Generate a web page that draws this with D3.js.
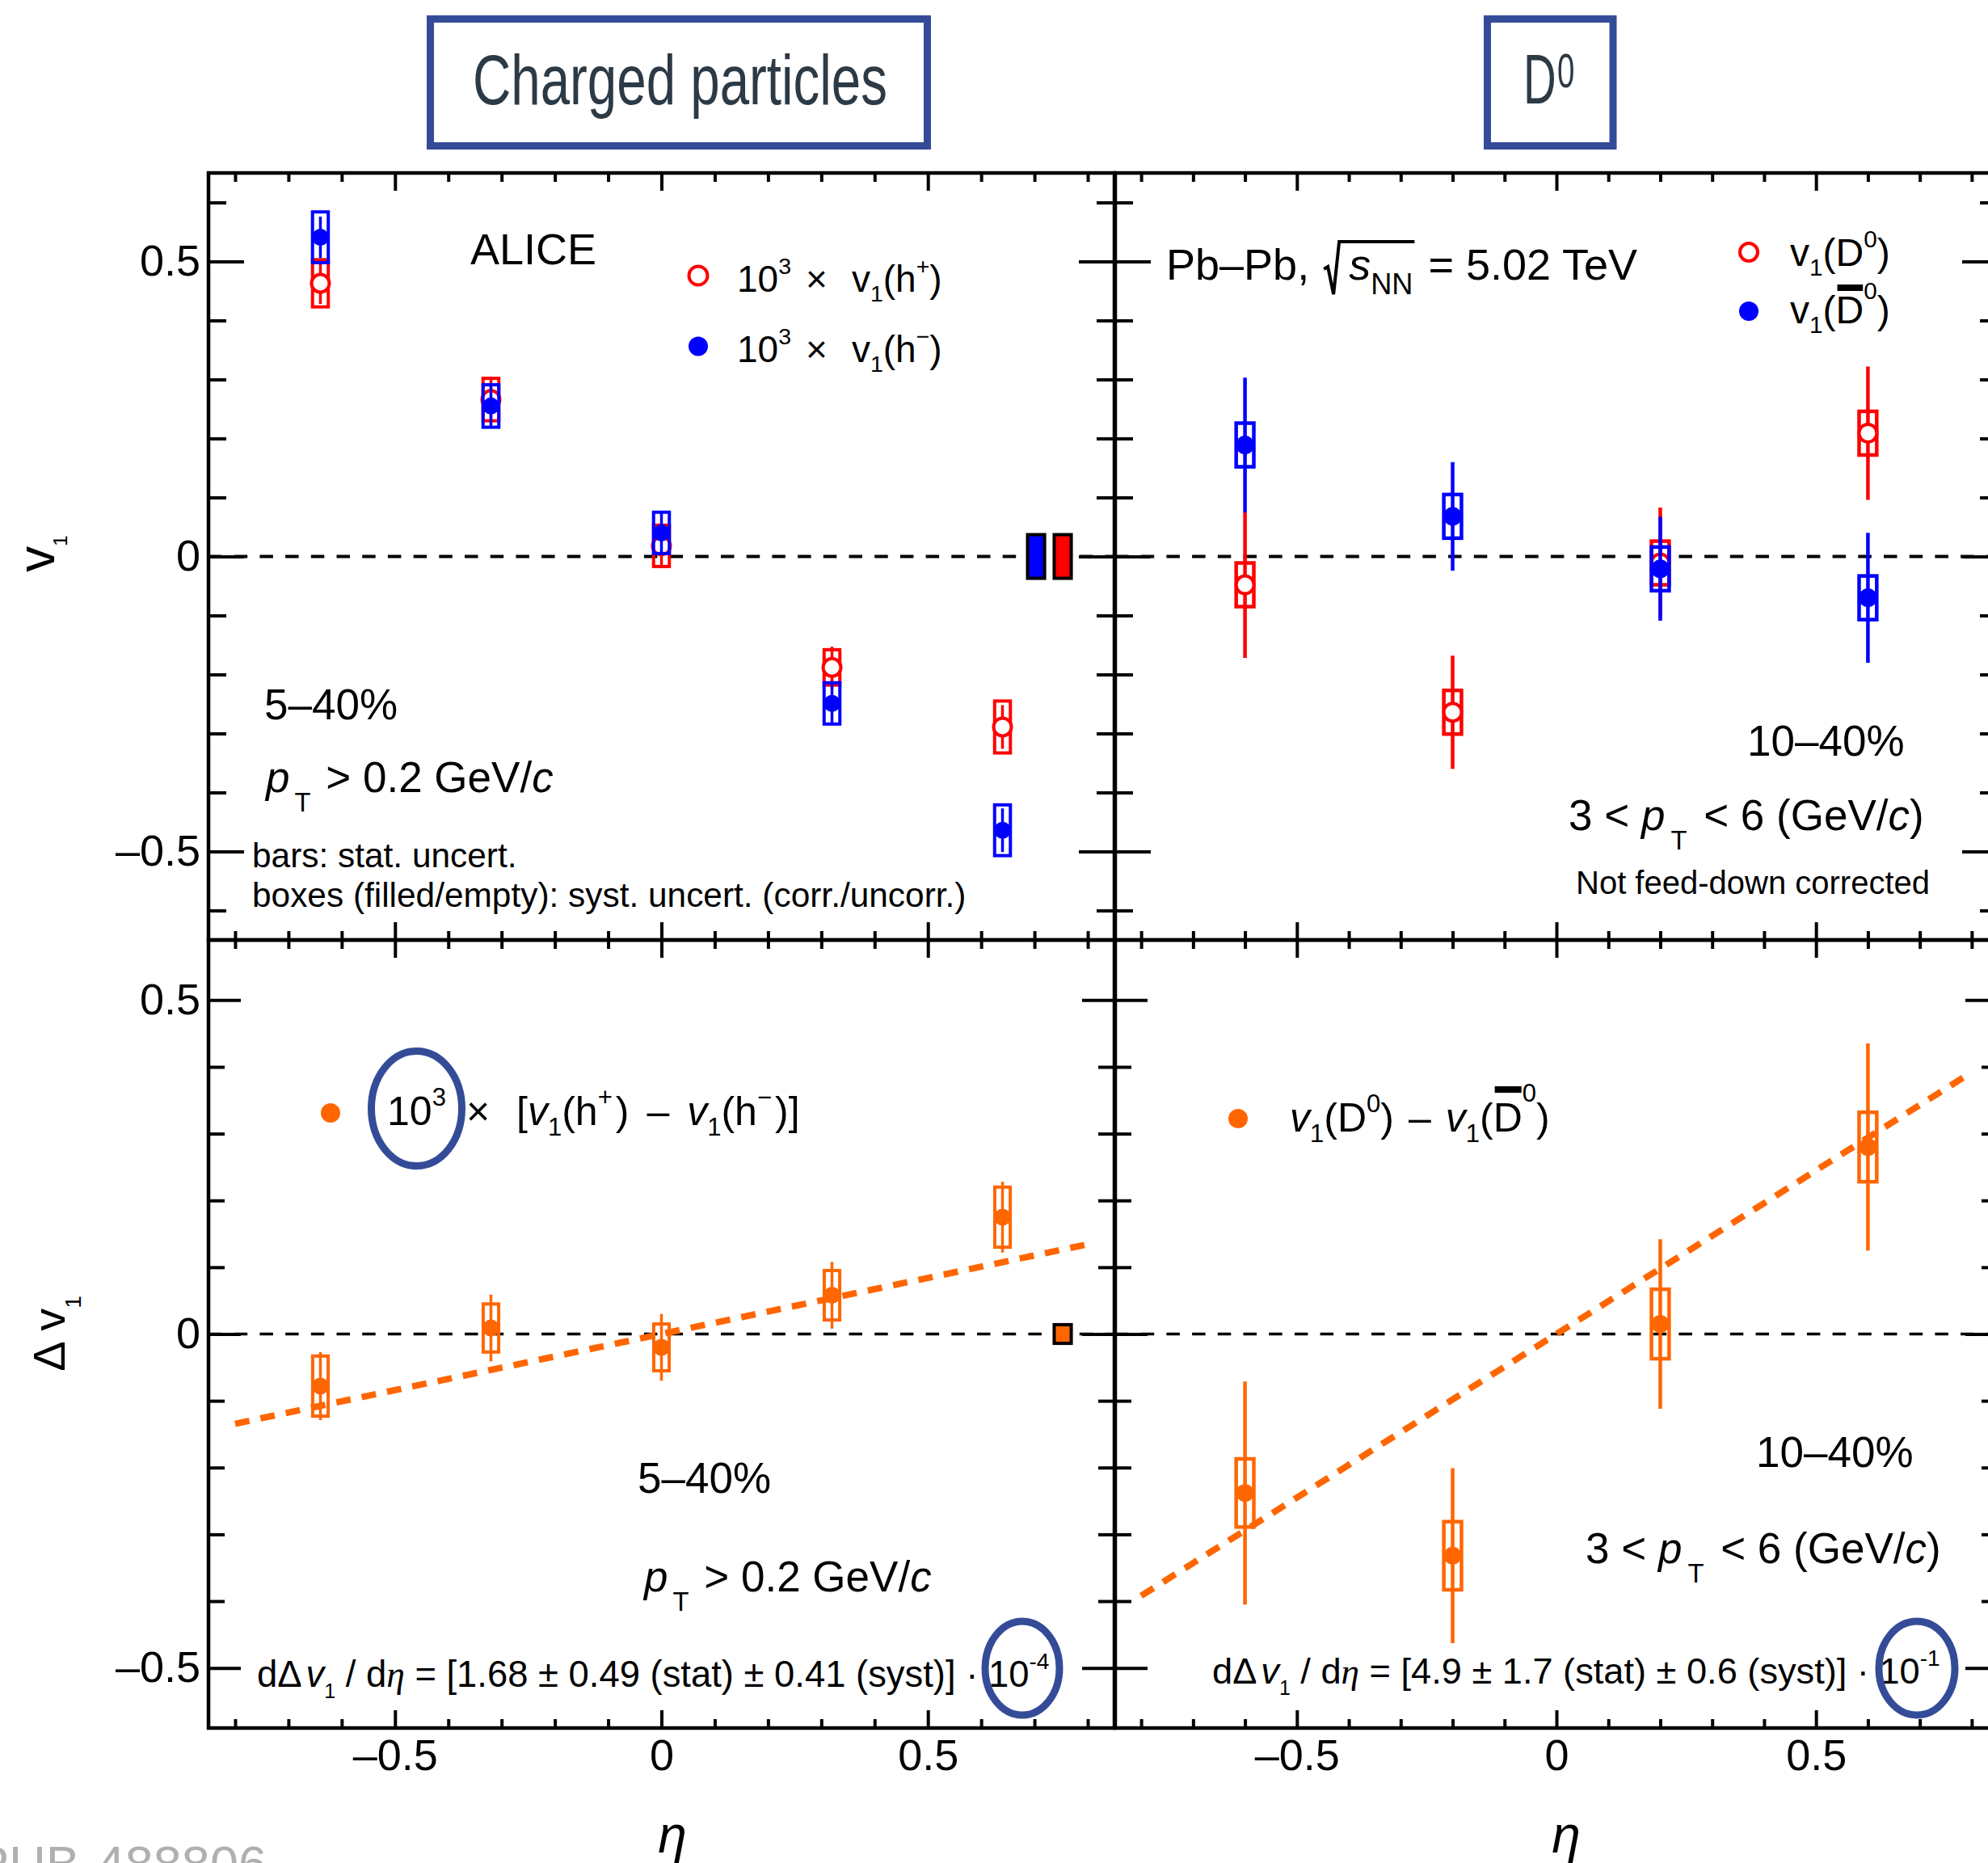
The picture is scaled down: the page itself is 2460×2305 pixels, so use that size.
<!DOCTYPE html>
<html>
<head>
<meta charset="utf-8">
<script src="https://cdn.jsdelivr.net/npm/d3@7"></script>
<style>
  html, body { margin: 0; padding: 0; background: #fff; }
  svg { display: block; }
  text { font-family: "Liberation Sans", Arial, Helvetica, sans-serif; fill: #000; }
</style>
</head>
<body>
<svg id="chart" width="2460" height="2305"></svg>
<script>
// ---------- data ----------
// pseudorapidity bin centres
const etaCharged = [-0.64, -0.32, 0, 0.32, 0.64];
const etaD0 = [-0.6, -0.2, 0.2, 0.6];

// 10^3 x v1 of positive / negative charged hadrons, 5-40%, pT > 0.2 GeV/c
const v1HPlus      = [0.463, 0.266, 0.018, -0.188, -0.289];
const v1HPlusStat  = [0.035, 0.035, 0.035, 0.035, 0.037];
const v1HPlusSyst  = [0.040, 0.036, 0.035, 0.030, 0.044];
const v1HMinus     = [0.541, 0.255, 0.040, -0.249, -0.464];
const v1HMinusStat = [0.035, 0.035, 0.035, 0.035, 0.037];
const v1HMinusSyst = [0.043, 0.036, 0.035, 0.035, 0.043];
// correlated systematic (filled boxes): h- then h+
const corrHEta = [0.703, 0.753];
const corrHUnc = [0.037, 0.037];

// v1 of D0 and anti-D0, 10-40%, 3 < pT < 6 GeV/c
const v1D0        = [-0.048, -0.264, -0.011, 0.209];
const v1D0Stat    = [0.124, 0.096, 0.094, 0.113];
const v1D0Syst    = [0.037, 0.037, 0.037, 0.037];
const v1D0bar     = [0.189, 0.068, -0.021, -0.070];
const v1D0barStat = [0.114, 0.092, 0.088, 0.110];
const v1D0barSyst = [0.037, 0.037, 0.037, 0.037];

// 10^3 x [v1(h+) - v1(h-)]
const dv1H     = [-0.078, 0.009, -0.020, 0.058, 0.175];
const dv1HStat = [0.051, 0.050, 0.050, 0.050, 0.053];
const dv1HSyst = [0.045, 0.036, 0.035, 0.037, 0.045];
const corrDEta = [0.753];
const corrDUnc = [0.014];

// v1(D0) - v1(anti-D0)
const dv1D     = [-0.238, -0.332, 0.015, 0.280];
const dv1DStat = [0.167, 0.131, 0.127, 0.155];
const dv1DSyst = [0.051, 0.051, 0.052, 0.052];

// linear fits dDv1/deta (slope in plotted units), fitted over |eta| < 0.8
const slopeH = 1.68e-4 * 1e3;
const slopeD = 4.9e-1;
const fitRange = [-0.8, 0.8];

// tick labels
const xTickLabels = [-0.5, 0, 0.5];
const yTickLabels = [-0.5, 0, 0.5];

// ---------- layout ----------
const svg = d3.select("#chart");
const RED = "#ff0000", BLUE = "#0000ff", ORANGE = "#ff6600", NAVY = "#344c98";

const xL = d3.scaleLinear().domain([-0.85, 0.85]).range([258, 1379]);
const xR = d3.scaleLinear().domain([-0.85, 0.85]).range([1380, 2472]);
const yT = d3.scaleLinear().domain([-0.65, 0.65]).range([1163, 214]);
const yB = d3.scaleLinear().domain([-0.59, 0.59]).range([2138, 1163]);

// ---------- helpers ----------
function rich(parent, x, y, size, segs, opts = {}) {
  const t = parent.append("text").attr("x", x).attr("y", y).attr("font-size", size);
  if (opts.anchor) t.attr("text-anchor", opts.anchor);
  if (opts.fill) t.style("fill", opts.fill);
  if (opts.family) t.attr("font-family", opts.family);
  let cur = 0, idx = 0;
  const marks = {};
  segs.forEach(s => {
    const [str, kind = "", ex = {}] = typeof s === "string" ? [s] : s;
    const flags = kind.split(" ");
    let fs = size, target = 0;
    if (flags.includes("sub")) { fs = size * (ex.fs || 0.62); target = size * (ex.shift ?? 0.25); }
    if (flags.includes("sup")) { fs = size * (ex.fs || 0.62); target = -size * (ex.shift ?? 0.48); }
    const ts = t.append("tspan").text(str).attr("font-size", fs);
    if (target - cur !== 0) ts.attr("dy", target - cur);
    cur = target;
    if (flags.includes("it")) ts.attr("font-style", "italic");
    if (ex.family) ts.attr("font-family", ex.family);
    if (ex.dx) ts.attr("dx", ex.dx);
    if (ex.x != null) ts.attr("x", ex.x);
    if (ex.mark) marks[ex.mark] = { start: idx, len: str.length };
    idx += str.length;
  });
  t.extent = name => {
    const m = marks[name], n = t.node();
    return { x0: n.getStartPositionOfChar(m.start).x, x1: n.getEndPositionOfChar(m.start + m.len - 1).x };
  };
  return t;
}

function drawFrame(x, y, o) {
  const g = svg.append("g");
  const [xa, xb] = x.range();
  const [yb, ya] = y.range();
  const [ylo, yhi] = y.domain();
  const isMaj = v => Math.round(v * 10) % 5 === 0;
  const xt = d3.range(-8, 9).map(i => i / 10);
  const yt = d3.range(-6, 7).map(i => i / 10).filter(v => v >= ylo - 1e-9 && v <= yhi + 1e-9);
  const ax = (fn, sc, vals, len, tr) => g.append("g").attr("transform", tr)
    .call(fn(sc).tickValues(vals).tickSize(len).tickFormat(""))
    .call(s => s.select(".domain").remove());
  [[xt.filter(isMaj), o.xMaj], [xt.filter(v => !isMaj(v)), o.xMin]].forEach(([vals, len]) => {
    ax(d3.axisBottom, x, vals, len, `translate(0,${ya})`);
    ax(d3.axisTop, x, vals, len, `translate(0,${yb})`);
  });
  [[yt.filter(isMaj), o.yMaj], [yt.filter(v => !isMaj(v)), o.yMin]].forEach(([vals, len]) => {
    ax(d3.axisRight, y, vals, len, `translate(${xa},0)`);
    ax(d3.axisLeft, y, vals, len, `translate(${xb},0)`);
  });
  g.selectAll(".tick line").attr("stroke", "#000").attr("stroke-width", 4);
  // zero reference
  g.append("line").attr("x1", xa).attr("x2", xb).attr("y1", y(0)).attr("y2", y(0))
    .attr("stroke", "#000").attr("stroke-width", o.zeroW).attr("stroke-dasharray", "16.5,15.2");
  g.append("rect").attr("x", xa).attr("y", ya).attr("width", xb - xa).attr("height", yb - ya)
    .attr("fill", "none").attr("stroke", "#000").attr("stroke-width", 4.5);
  return g;
}

function drawSeries(x, y, eta, val, stat, syst, o) {
  const g = svg.append("g");
  const d = eta.map((e, i) => ({ e, v: val[i], st: stat[i], sy: syst[i] }));
  g.selectAll(null).data(d).join("rect")
    .attr("x", p => x(p.e - o.hw)).attr("width", p => x(p.e + o.hw) - x(p.e - o.hw))
    .attr("y", p => y(p.v + p.sy)).attr("height", p => y(p.v - p.sy) - y(p.v + p.sy))
    .attr("fill", "none").attr("stroke", o.color).attr("stroke-width", o.boxW);
  g.selectAll(null).data(d).join("line")
    .attr("x1", p => x(p.e)).attr("x2", p => x(p.e))
    .attr("y1", p => y(p.v + p.st)).attr("y2", p => y(p.v - p.st))
    .attr("stroke", o.color).attr("stroke-width", o.barW);
  g.selectAll(null).data(d).join("circle")
    .attr("cx", p => x(p.e)).attr("cy", p => y(p.v))
    .attr("r", o.r)
    .attr("fill", o.open ? "#fff" : o.color)
    .attr("stroke", o.open ? o.color : "none").attr("stroke-width", 4);
}

function drawCorr(x, y, eta, unc, colors, hw) {
  svg.append("g").selectAll(null).data(eta.map((e, i) => ({ e, u: unc[i], c: colors[i] }))).join("rect")
    .attr("x", p => x(p.e - hw)).attr("width", p => x(p.e + hw) - x(p.e - hw))
    .attr("y", p => y(p.u)).attr("height", p => y(-p.u) - y(p.u))
    .attr("fill", p => p.c).attr("stroke", "#000").attr("stroke-width", 4);
}

function drawFit(x, y, slope) {
  const pts = fitRange.map(e => [e, slope * e]);
  svg.append("path").datum(pts)
    .attr("d", d3.line().x(p => x(p[0])).y(p => y(p[1])))
    .attr("fill", "none").attr("stroke", ORANGE).attr("stroke-width", 8)
    .attr("stroke-dasharray", "18,14");
}

const tickFmt = d => d === 0 ? "0" : (d < 0 ? "\u2013" : "") + d3.format(".1f")(Math.abs(d));
function yLabels(y) {
  svg.append("g").attr("transform", `translate(${xL.range()[0]},0)`)
    .call(d3.axisLeft(y).tickValues(yTickLabels).tickSize(0).tickPadding(10).tickFormat(tickFmt))
    .call(s => s.select(".domain").remove())
    .attr("font-size", 54).attr("font-family", null);
}
function xLabels(x) {
  svg.append("g").attr("transform", `translate(0,${yB.range()[0]})`)
    .call(d3.axisBottom(x).tickValues(xTickLabels).tickSize(0).tickPadding(14).tickFormat(tickFmt))
    .call(s => s.select(".domain").remove())
    .attr("font-size", 54).attr("font-family", null);
}

// ---------- panels ----------
drawFrame(xL, yT, { xMaj: 22, xMin: 11, yMaj: 44, yMin: 22, zeroW: 4 });
drawFrame(xR, yT, { xMaj: 22, xMin: 11, yMaj: 44, yMin: 22, zeroW: 4 });
drawFrame(xL, yB, { xMaj: 22, xMin: 11, yMaj: 40, yMin: 20, zeroW: 3.5 });
drawFrame(xR, yB, { xMaj: 22, xMin: 11, yMaj: 40, yMin: 20, zeroW: 3.5 });
yLabels(yT); yLabels(yB);
xLabels(xL); xLabels(xR);

// fits
drawFit(xL, yB, slopeH);
drawFit(xR, yB, slopeD);

// top-left: charged hadrons
drawSeries(xL, yT, etaCharged, v1HPlus, v1HPlusStat, v1HPlusSyst, { color: RED, hw: 0.0148, boxW: 4, barW: 3.5, r: 11, open: true });
drawSeries(xL, yT, etaCharged, v1HMinus, v1HMinusStat, v1HMinusSyst, { color: BLUE, hw: 0.0148, boxW: 4, barW: 3.5, r: 10.5, open: false });
drawCorr(xL, yT, corrHEta, corrHUnc, [BLUE, RED], 0.016);

// top-right: D0
drawSeries(xR, yT, etaD0, v1D0, v1D0Stat, v1D0Syst, { color: RED, hw: 0.017, boxW: 4.5, barW: 4.5, r: 11, open: true });
drawSeries(xR, yT, etaD0, v1D0bar, v1D0barStat, v1D0barSyst, { color: BLUE, hw: 0.017, boxW: 4.5, barW: 4.5, r: 11.5, open: false });

// bottom-left: charge difference
drawSeries(xL, yB, etaCharged, dv1H, dv1HStat, dv1HSyst, { color: ORANGE, hw: 0.0145, boxW: 4, barW: 3.5, r: 10.5, open: false });
drawCorr(xL, yB, corrDEta, corrDUnc, [ORANGE], 0.016);

// bottom-right: D0 difference
drawSeries(xR, yB, etaD0, dv1D, dv1DStat, dv1DSyst, { color: ORANGE, hw: 0.017, boxW: 4.5, barW: 4.5, r: 11, open: false });

// ---------- text ----------
const T = svg.append("g");

// top-left
rich(T, 582, 327, 54, ["ALICE"]);
T.append("circle").attr("cx", 864).attr("cy", 341).attr("r", 11.5).attr("fill", "#fff").attr("stroke", RED).attr("stroke-width", 4);
T.append("circle").attr("cx", 864).attr("cy", 428.5).attr("r", 12).attr("fill", BLUE);
rich(T, 912, 361, 46, ["10", ["3", "sup"], ["\u00d7", "", { dx: 18 }], ["v", "", { dx: 30 }], ["1", "sub"], "(h", ["+", "sup"], ")"]);
rich(T, 912, 448, 46, ["10", ["3", "sup"], ["\u00d7", "", { dx: 18 }], ["v", "", { dx: 30 }], ["1", "sub"], "(h", ["\u2212", "sup"], ")"]);
rich(T, 327, 890, 53, ["5\u201340%"]);
rich(T, 329, 980, 53, [["p", "it"], ["T", "sub", { shift: 0.45, dx: 6 }], [" > 0.2 GeV/", "", { dx: 4 }], ["c", "it"]]);
rich(T, 312, 1073, 42.4, ["bars: stat. uncert."]);
rich(T, 312, 1122, 42.4, ["boxes (filled/empty): syst. uncert. (corr./uncorr.)"]);

// top-right
const sys = rich(T, 1443, 346, 54, ["Pb\u2013Pb, ", ["s", "it", { dx: 34, mark: "s" }], ["NN", "sub", { fs: 0.67, shift: 0.33, mark: "nn" }], [" = 5.02 TeV", "", { dx: 4 }]]);
{
  const xs = sys.extent("s").x0, xe = sys.extent("nn").x1, b = 346;
  T.append("path")
    .attr("d", `M${xs - 31},${b - 13} L${xs - 26},${b - 16} L${xs - 19},${b + 18} L${xs - 12},${b - 47} L${xe + 2},${b - 47}`)
    .attr("fill", "none").attr("stroke", "#000").attr("stroke-width", 4).attr("stroke-linejoin", "miter");
}
T.append("circle").attr("cx", 2164).attr("cy", 312).attr("r", 11).attr("fill", "#fff").attr("stroke", RED).attr("stroke-width", 4);
T.append("circle").attr("cx", 2164).attr("cy", 385).attr("r", 12).attr("fill", BLUE);
rich(T, 2215, 329, 48, ["v", ["1", "sub"], "(D", ["0", "sup"], ")"]);
const dbar = rich(T, 2215, 400, 48, ["v", ["1", "sub"], "(", ["D", "", { mark: "bar" }], ["0", "sup", { shift: 0.62 }], ")"]);
{
  const e = dbar.extent("bar");
  T.append("rect").attr("x", e.x0 + 2).attr("width", e.x1 - e.x0 - 3).attr("y", 400 - 48 * 1.0).attr("height", 8).attr("fill", "#000");
}
rich(T, 2162, 935, 53, ["10\u201340%"]);
rich(T, 1941, 1027, 53, ["3 < ", ["p", "it"], ["T", "sub", { shift: 0.45, dx: 7 }], [" < 6 (GeV/", "", { dx: 6 }], ["c", "it"], ")"]);
rich(T, 1950, 1106, 40, ["Not feed-down corrected"]);

// bottom-left
T.append("circle").attr("cx", 409).attr("cy", 1377).attr("r", 12).attr("fill", ORANGE);
rich(T, 479, 1392, 50, ["10", ["3", "sup"], ["\u00d7", "", { x: 577 }], ["[", "", { x: 639 }], ["v", "it"], ["1", "sub"], "(h", ["+", "sup"], [")", "", { dx: 4 }],
  ["\u2013", "", { dx: 22 }], ["v", "it", { dx: 22 }], ["1", "sub"], "(h", ["\u2212", "sup"], [")]", "", { dx: 4 }]]);
rich(T, 789, 1847, 53, ["5\u201340%"]);
rich(T, 797, 1969, 53, [["p", "it"], ["T", "sub", { shift: 0.45, dx: 6 }], [" > 0.2 GeV/", "", { dx: 4 }], ["c", "it"]]);
rich(T, 318, 2087, 45.4, ["d\u0394", ["v", "it", { dx: 5 }], ["1", "sub", { fs: 0.55, shift: 0.3 }], " / d", ["\u03b7", "it", { family: "Liberation Serif" }], " = [1.68 \u00b1 0.49 (stat) \u00b1 0.41 (syst)] \u00b7 ", "10", ["-4", "sup"]]);

// bottom-right
T.append("circle").attr("cx", 1532).attr("cy", 1384).attr("r", 12).attr("fill", ORANGE);
const dd = rich(T, 1596, 1400, 50, [["v", "it"], ["1", "sub"], "(D", ["0", "sup"], ")", ["\u2013", "", { dx: 18 }], ["v", "it", { dx: 18 }], ["1", "sub"], "(", ["D", "", { mark: "bar" }], ["0", "sup", { shift: 0.75 }], ")"]);
{
  const e = dd.extent("bar");
  T.append("rect").attr("x", e.x0 + 2).attr("width", e.x1 - e.x0 - 3).attr("y", 1400 - 50 * 1.12).attr("height", 8).attr("fill", "#000");
}
rich(T, 2173, 1815, 53, ["10\u201340%"]);
rich(T, 1962, 1934, 53, ["3 < ", ["p", "it"], ["T", "sub", { shift: 0.45, dx: 7 }], [" < 6 (GeV/", "", { dx: 6 }], ["c", "it"], ")"]);
rich(T, 1500, 2083, 45.2, ["d\u0394", ["v", "it", { dx: 5 }], ["1", "sub", { fs: 0.55, shift: 0.3 }], " / d", ["\u03b7", "it", { family: "Liberation Serif" }], " = [4.9 \u00b1 1.7 (stat) \u00b1 0.6 (syst)] \u00b7 ", "10", ["-1", "sup"]]);

// axis titles
rich(T.append("g").attr("transform", "translate(67,685) rotate(-90)"), 0, 0, 64, ["v", ["1", "sub", { fs: 0.38, shift: 0.25 }]], { anchor: "middle" });
rich(T.append("g").attr("transform", "translate(80,1650) rotate(-90)"), 0, 0, 56, ["\u0394 v", ["1", "sub", { fs: 0.5, shift: 0.36 }]], { anchor: "middle" });
rich(T, 832, 2292, 64, [["\u03b7", "it"]], { anchor: "middle", family: "Liberation Serif" });
rich(T, 1938, 2292, 64, [["\u03b7", "it"]], { anchor: "middle", family: "Liberation Serif" });

// figure id
rich(T, 330, 2328, 63, ["ALI-PUB-488806"], { anchor: "end", fill: "#b0b0b0" });

// highlight ellipses
[[515.5, 1371.5, 56, 71], [1265, 2064, 46, 58], [2372, 2064, 47, 58]].forEach(([cx, cy, rx, ry]) => {
  T.append("ellipse").attr("cx", cx).attr("cy", cy).attr("rx", rx).attr("ry", ry)
    .attr("fill", "none").attr("stroke", NAVY).attr("stroke-width", 9);
});

// title boxes
const TB = svg.append("g");
TB.append("rect").attr("x", 532.5).attr("y", 23.5).attr("width", 615).attr("height", 157)
  .attr("fill", "#fff").attr("stroke", NAVY).attr("stroke-width", 9);
TB.append("text").attr("x", 585).attr("y", 129).attr("font-size", 88)
  .attr("font-family", "'Open Sans', sans-serif").attr("textLength", 513).attr("lengthAdjust", "spacingAndGlyphs")
  .style("fill", "#2c3a46").text("Charged particles");
TB.append("rect").attr("x", 1840.5).attr("y", 23.5).attr("width", 155.5).attr("height", 157)
  .attr("fill", "#fff").attr("stroke", NAVY).attr("stroke-width", 9);
{
  const t = TB.append("text").attr("transform", "translate(1885,128) scale(0.64,1)")
    .attr("font-size", 88).attr("font-family", "'Open Sans', sans-serif").style("fill", "#2c3a46");
  t.append("tspan").text("D");
  t.append("tspan").text("0").attr("font-size", 60).attr("dx", 2).attr("dy", -20);
}
</script>
</body>
</html>
